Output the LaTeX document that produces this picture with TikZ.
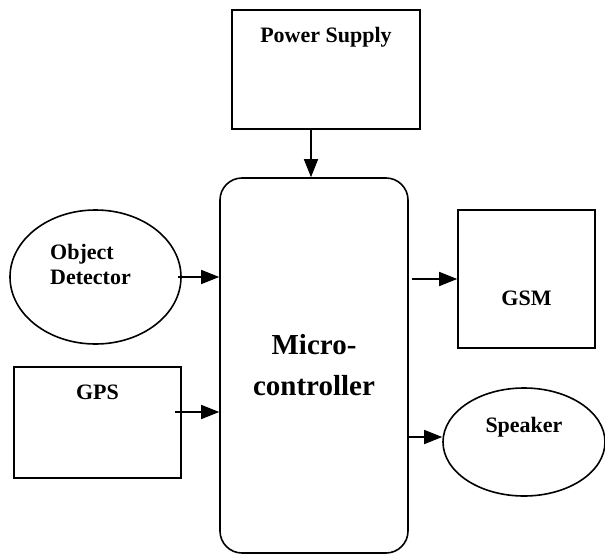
\documentclass[tikz,border=0pt]{standalone}
\usepackage{fontspec}
\setmainfont{Liberation Serif}
\usetikzlibrary{shapes.geometric,arrows.meta}
\begin{document}
\begin{tikzpicture}[x=1pt,y=-1pt,line width=1.6pt,
  blk/.style={draw,rectangle,inner sep=0pt},
  ell/.style={draw,ellipse,inner sep=0pt},
  txt/.style={font=\fontsize{22}{25}\selectfont\bfseries,inner sep=0pt,align=left},
  arr/.style={-{Triangle[length=18pt,width=14pt]}}]
\useasboundingbox (0,0) rectangle (605,554);
\node[blk,minimum width=188pt,minimum height=119pt,label={[txt,anchor=north,yshift=-17pt]north:Power Supply}] (ps) at (326,69.5) {}; % supply
\node[draw,rounded corners=22pt,minimum width=188pt,minimum height=375pt,align=center,
  font=\fontsize{29}{41}\selectfont\bfseries] (mc) at (314,365.5) {Micro-\\controller}; % controller
\node[ell,minimum width=171pt,minimum height=134pt,label={[txt,xshift=-5pt,yshift=12.5pt]center:Object\\Detector}] (od) at (95.5,277) {};
\node[blk,minimum width=167pt,minimum height=111pt,label={[txt,anchor=north,yshift=-18pt]north:GPS}] (gps) at (97.5,422.5) {};
\node[blk,minimum width=137pt,minimum height=138pt,label={[txt,yshift=-19pt]center:GSM}] (gsm) at (526.5,279) {};
\node[ell,minimum width=162pt,minimum height=108pt,label={[txt,yshift=15pt]center:Speaker}] (spk) at (524,442) {};
\draw[arr] ([xshift=-15pt]ps.south) -- ([xshift=-15pt]ps.south |- mc.north);
\draw[arr] ([xshift=-4pt]od.east) -- (od.east -| mc.west);
\draw[arr] ([shift={(-7,-10.5)}]gps.east) -- ([yshift=10.5pt]gps.east -| mc.west);
\draw[arr] ([xshift=3pt]mc.east |- gsm.west) -- (gsm.west);
\draw[arr] ([yshift=5pt]mc.east |- spk.west) -- ([yshift=5pt]spk.west);
\end{tikzpicture}
\end{document}
